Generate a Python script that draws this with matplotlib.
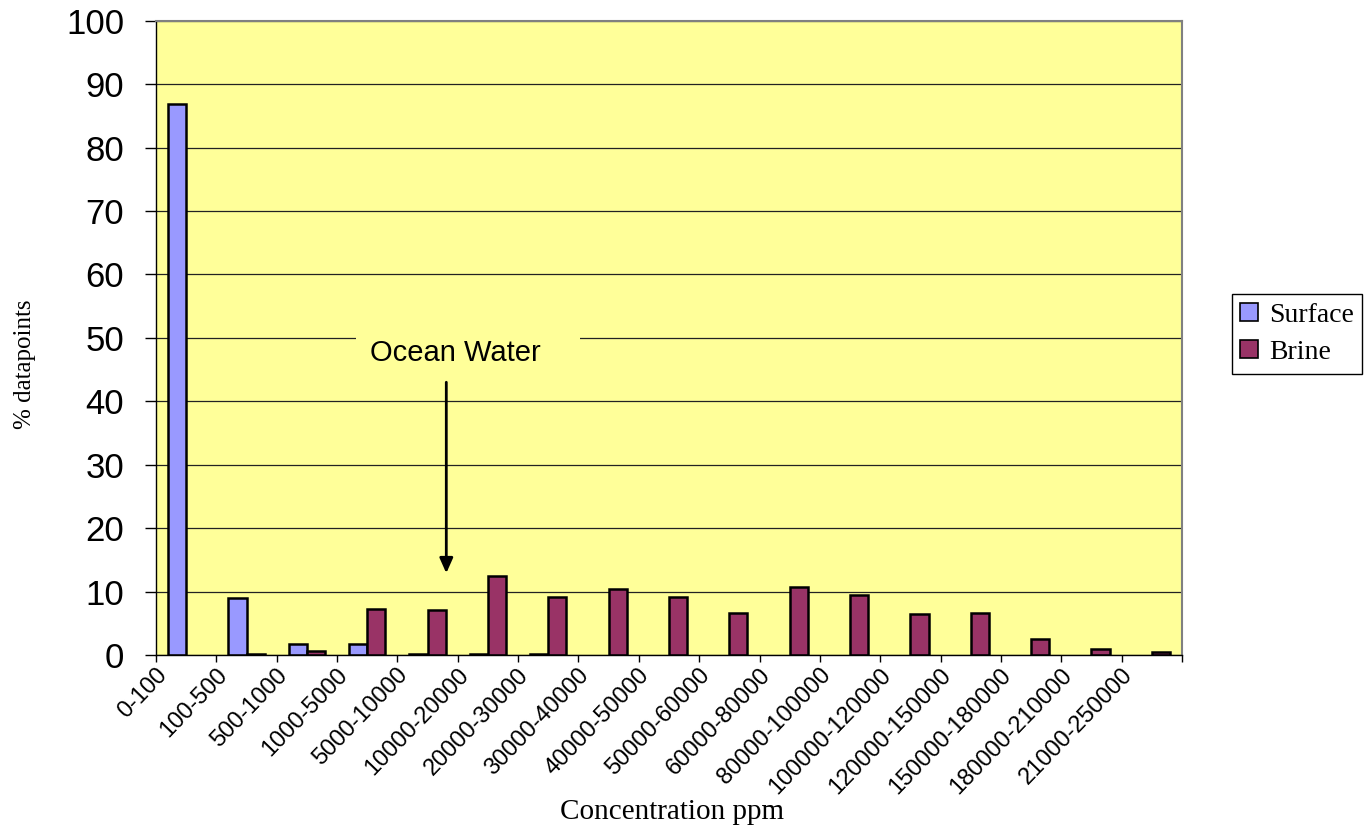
import matplotlib.pyplot as plt
import numpy as np
from matplotlib.patches import Rectangle, Patch

# concentration bins (ppm)
categories = ['0-100', '100-500', '500-1000', '1000-5000', '5000-10000',
              '10000-20000', '20000-30000', '30000-40000', '40000-50000',
              '50000-60000', '60000-80000', '80000-100000', '100000-120000',
              '120000-150000', '150000-180000', '180000-210000', '21000-250000']
surface = [86.8, 9.0, 1.8, 1.8, 0.2, 0.2, 0.2, 0, 0, 0, 0, 0, 0, 0, 0, 0, 0]
brine = [0, 0.2, 0.7, 7.3, 7.1, 12.5, 9.2, 10.4, 9.2, 6.7, 10.7, 9.5, 6.4, 6.7, 2.5, 1.0, 0.5]
yticks = list(range(0, 101, 10))

surface_color = '#9999FF'
brine_color = '#993366'
plot_bg = '#FFFF99'

fig = plt.figure(figsize=(13.66, 8.4), dpi=100)
ax = fig.add_axes([0.1142, 0.2202, 0.7511, 0.7552])
ax.set_facecolor(plot_bg)

x = np.arange(len(categories))
w = 0.3
b1 = ax.bar(x - w / 2, surface, w, color=surface_color, edgecolor='black',
            linewidth=1.8, label='Surface', zorder=2)
b2 = ax.bar(x + w / 2, brine, w, color=brine_color, edgecolor='black',
            linewidth=1.8, label='Brine', zorder=2)
# Excel draws nothing for empty bins
for bars in (b1, b2):
    for r in bars:
        if r.get_height() == 0:
            r.set_visible(False)

ax.set_xlim(-0.5, len(categories) - 0.5)
ax.set_ylim(0, 100)
ax.set_yticks(yticks)
ax.yaxis.grid(True, color='#222222', linewidth=0.9)
ax.set_axisbelow(True)

# labels sit a little left of the category centre, as in the Excel chart
ax.set_xticks(x - 0.38)
ax.set_xticklabels(categories, rotation=46, ha='right', va='center',
                   rotation_mode='anchor', fontsize=17, family='Liberation Sans')
ax.set_xticks(np.arange(len(categories) + 1) - 0.5, minor=True)
ax.tick_params(axis='x', which='major', length=0, pad=12)
ax.tick_params(axis='x', which='minor', length=5, width=1, direction='out')
ax.tick_params(axis='y', length=8, width=1, direction='out', pad=15)
for lab in ax.get_yticklabels():
    lab.set_fontsize(25)
    lab.set_family('Liberation Sans')

for s in ('top', 'right'):
    ax.spines[s].set_color('#808080')
    ax.spines[s].set_linewidth(1.5)
for s in ('left', 'bottom'):
    ax.spines[s].set_color('black')
    ax.spines[s].set_linewidth(1)

ax.set_ylabel('% datapoints', family='Liberation Serif', fontsize=18, va='center')
ax.yaxis.set_label_coords(-0.128, 0.459)
ax.set_xlabel('Concentration ppm', family='Liberation Serif', fontsize=21, va='center')
ax.xaxis.set_label_coords(0.503, -0.2475)

# ocean water marker
ax.add_patch(Rectangle((2.82, 44), 3.71, 9, facecolor=plot_bg, edgecolor='none', zorder=1))
ax.text(4.46, 47.6, 'Ocean Water', ha='center', va='center', fontsize=21,
        family='Liberation Sans', zorder=3)
ax.annotate('', xy=(4.31, 12.9), xytext=(4.31, 43),
            arrowprops=dict(arrowstyle='-|>,head_length=0.9,head_width=0.4',
                            color='black', linewidth=2, shrinkA=0, shrinkB=0),
            zorder=3)

handles = [Patch(facecolor=surface_color, edgecolor='black', linewidth=1.2),
           Patch(facecolor=brine_color, edgecolor='black', linewidth=1.2)]
leg = fig.legend(handles, ['Surface', 'Brine'], loc='center left',
                 bbox_to_anchor=(1232 / 1366, 1 - 334 / 840),
                 prop={'family': 'Liberation Serif', 'size': 20},
                 frameon=True, fancybox=False, framealpha=1, edgecolor='black',
                 handlelength=0.62, handleheight=0.62, handletextpad=0.42,
                 labelspacing=0.45, borderpad=0.3, borderaxespad=0)
leg.get_frame().set_linewidth(1)

plt.savefig('out.png', dpi=100)
